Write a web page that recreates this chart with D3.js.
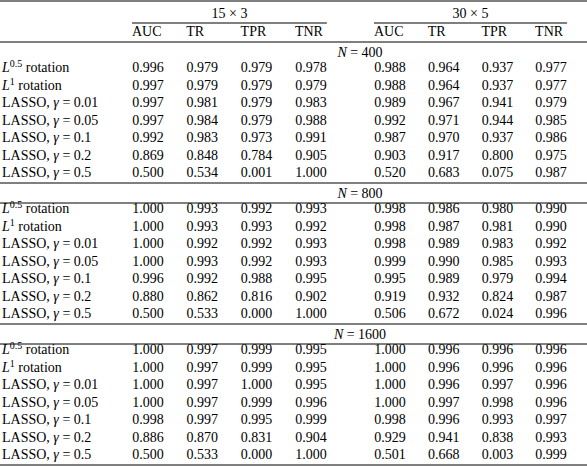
<!DOCTYPE html>
<html><head><meta charset="utf-8">
<script src="https://cdn.jsdelivr.net/npm/d3@7"></script>
<style>body{margin:0;background:#fff}svg text{font-family:'Liberation Serif','Times New Roman',Times,serif;font-size:14px;fill:#000}</style>
</head><body>
<script>
const groups = ["15 × 3", "30 × 5"];
const metrics = ["AUC", "TR", "TPR", "TNR"];
const sections = ["400", "800", "1600"];
const methods = ["L0.5", "L1", "0.01", "0.05", "0.1", "0.2", "0.5"];
const n400 = [
 ["0.996","0.979","0.979","0.978","0.988","0.964","0.937","0.977"],
 ["0.997","0.979","0.979","0.979","0.988","0.964","0.937","0.977"],
 ["0.997","0.981","0.979","0.983","0.989","0.967","0.941","0.979"],
 ["0.997","0.984","0.979","0.988","0.992","0.971","0.944","0.985"],
 ["0.992","0.983","0.973","0.991","0.987","0.970","0.937","0.986"],
 ["0.869","0.848","0.784","0.905","0.903","0.917","0.800","0.975"],
 ["0.500","0.534","0.001","1.000","0.520","0.683","0.075","0.987"]];
const n800 = [
 ["1.000","0.993","0.992","0.993","0.998","0.986","0.980","0.990"],
 ["1.000","0.993","0.993","0.992","0.998","0.987","0.981","0.990"],
 ["1.000","0.992","0.992","0.993","0.998","0.989","0.983","0.992"],
 ["1.000","0.993","0.992","0.993","0.999","0.990","0.985","0.993"],
 ["0.996","0.992","0.988","0.995","0.995","0.989","0.979","0.994"],
 ["0.880","0.862","0.816","0.902","0.919","0.932","0.824","0.987"],
 ["0.500","0.533","0.000","1.000","0.506","0.672","0.024","0.996"]];
const n1600 = [
 ["1.000","0.997","0.999","0.995","1.000","0.996","0.996","0.996"],
 ["1.000","0.997","0.999","0.995","1.000","0.996","0.996","0.996"],
 ["1.000","0.997","1.000","0.995","1.000","0.996","0.997","0.996"],
 ["1.000","0.997","0.999","0.996","1.000","0.997","0.998","0.996"],
 ["0.998","0.997","0.995","0.999","0.998","0.996","0.993","0.997"],
 ["0.886","0.870","0.831","0.904","0.929","0.941","0.838","0.993"],
 ["0.500","0.533","0.000","1.000","0.501","0.668","0.003","0.999"]];
const tables = [n400, n800, n1600];

const W = 587, H = 467;
const svg = d3.select("body").append("svg").attr("width", W).attr("height", H)
  .attr("font-family", "Liberation Serif");
const cx = i => i < 4 ? 148 + i * 54.3 : 390 + (i - 4) * 53.7;
const line = (x1, x2, y, w) => svg.append("line").attr("x1", x1).attr("x2", x2).attr("y1", y).attr("y2", y).attr("stroke", "#000").attr("stroke-width", w || 1);

line(0, W, 1, 1.2);
groups.forEach((g, gi) => {
  const a = cx(gi * 4) - 16, b = cx(gi * 4 + 3) + 16;
  svg.append("text").attr("x", (a + b) / 2).attr("y", 18).attr("text-anchor", "middle").text(g);
  line(a, Math.min(b, W), 23);
  metrics.forEach((m, mi) => {
    svg.append("text").attr("x", cx(gi * 4 + mi) - 16).attr("y", 36).text(m);
  });
});
line(0, W, 42);

const pitch = 17.5;
let y = 42;
sections.forEach((s, si) => {
  const t = svg.append("text").attr("x", 360).attr("y", y + 15).attr("text-anchor", "middle");
  t.append("tspan").attr("font-style", "italic").text("N");
  t.append("tspan").text(" = " + s);
  if (si > 0) line(0, W, y + 20);
  let ry = y + 30;
  tables[si].forEach((row, ri) => {
    const ty = ry + ri * pitch;
    const lab = svg.append("text").attr("x", 2).attr("y", ty);
    const m = methods[ri];
    if (m === "L0.5" || m === "L1") {
      lab.append("tspan").attr("font-style", "italic").text("L");
      lab.append("tspan").attr("dy", -5).attr("style", "font-size:10px").text(m === "L0.5" ? "0.5" : "1");
      lab.append("tspan").attr("dy", 5).text(" rotation");
    } else {
      lab.append("tspan").text("LASSO, ");
      lab.append("tspan").attr("font-style", "italic").text("γ");
      lab.append("tspan").text(" = " + m);
    }
    row.forEach((v, ci) => {
      svg.append("text").attr("x", cx(ci)).attr("y", ty).attr("text-anchor", "middle").text(v);
    });
  });
  y = ry + 6 * pitch + 6;
  line(0, W, y, si < 2 ? 1 : 1.2);
});
</script>
</body></html>
